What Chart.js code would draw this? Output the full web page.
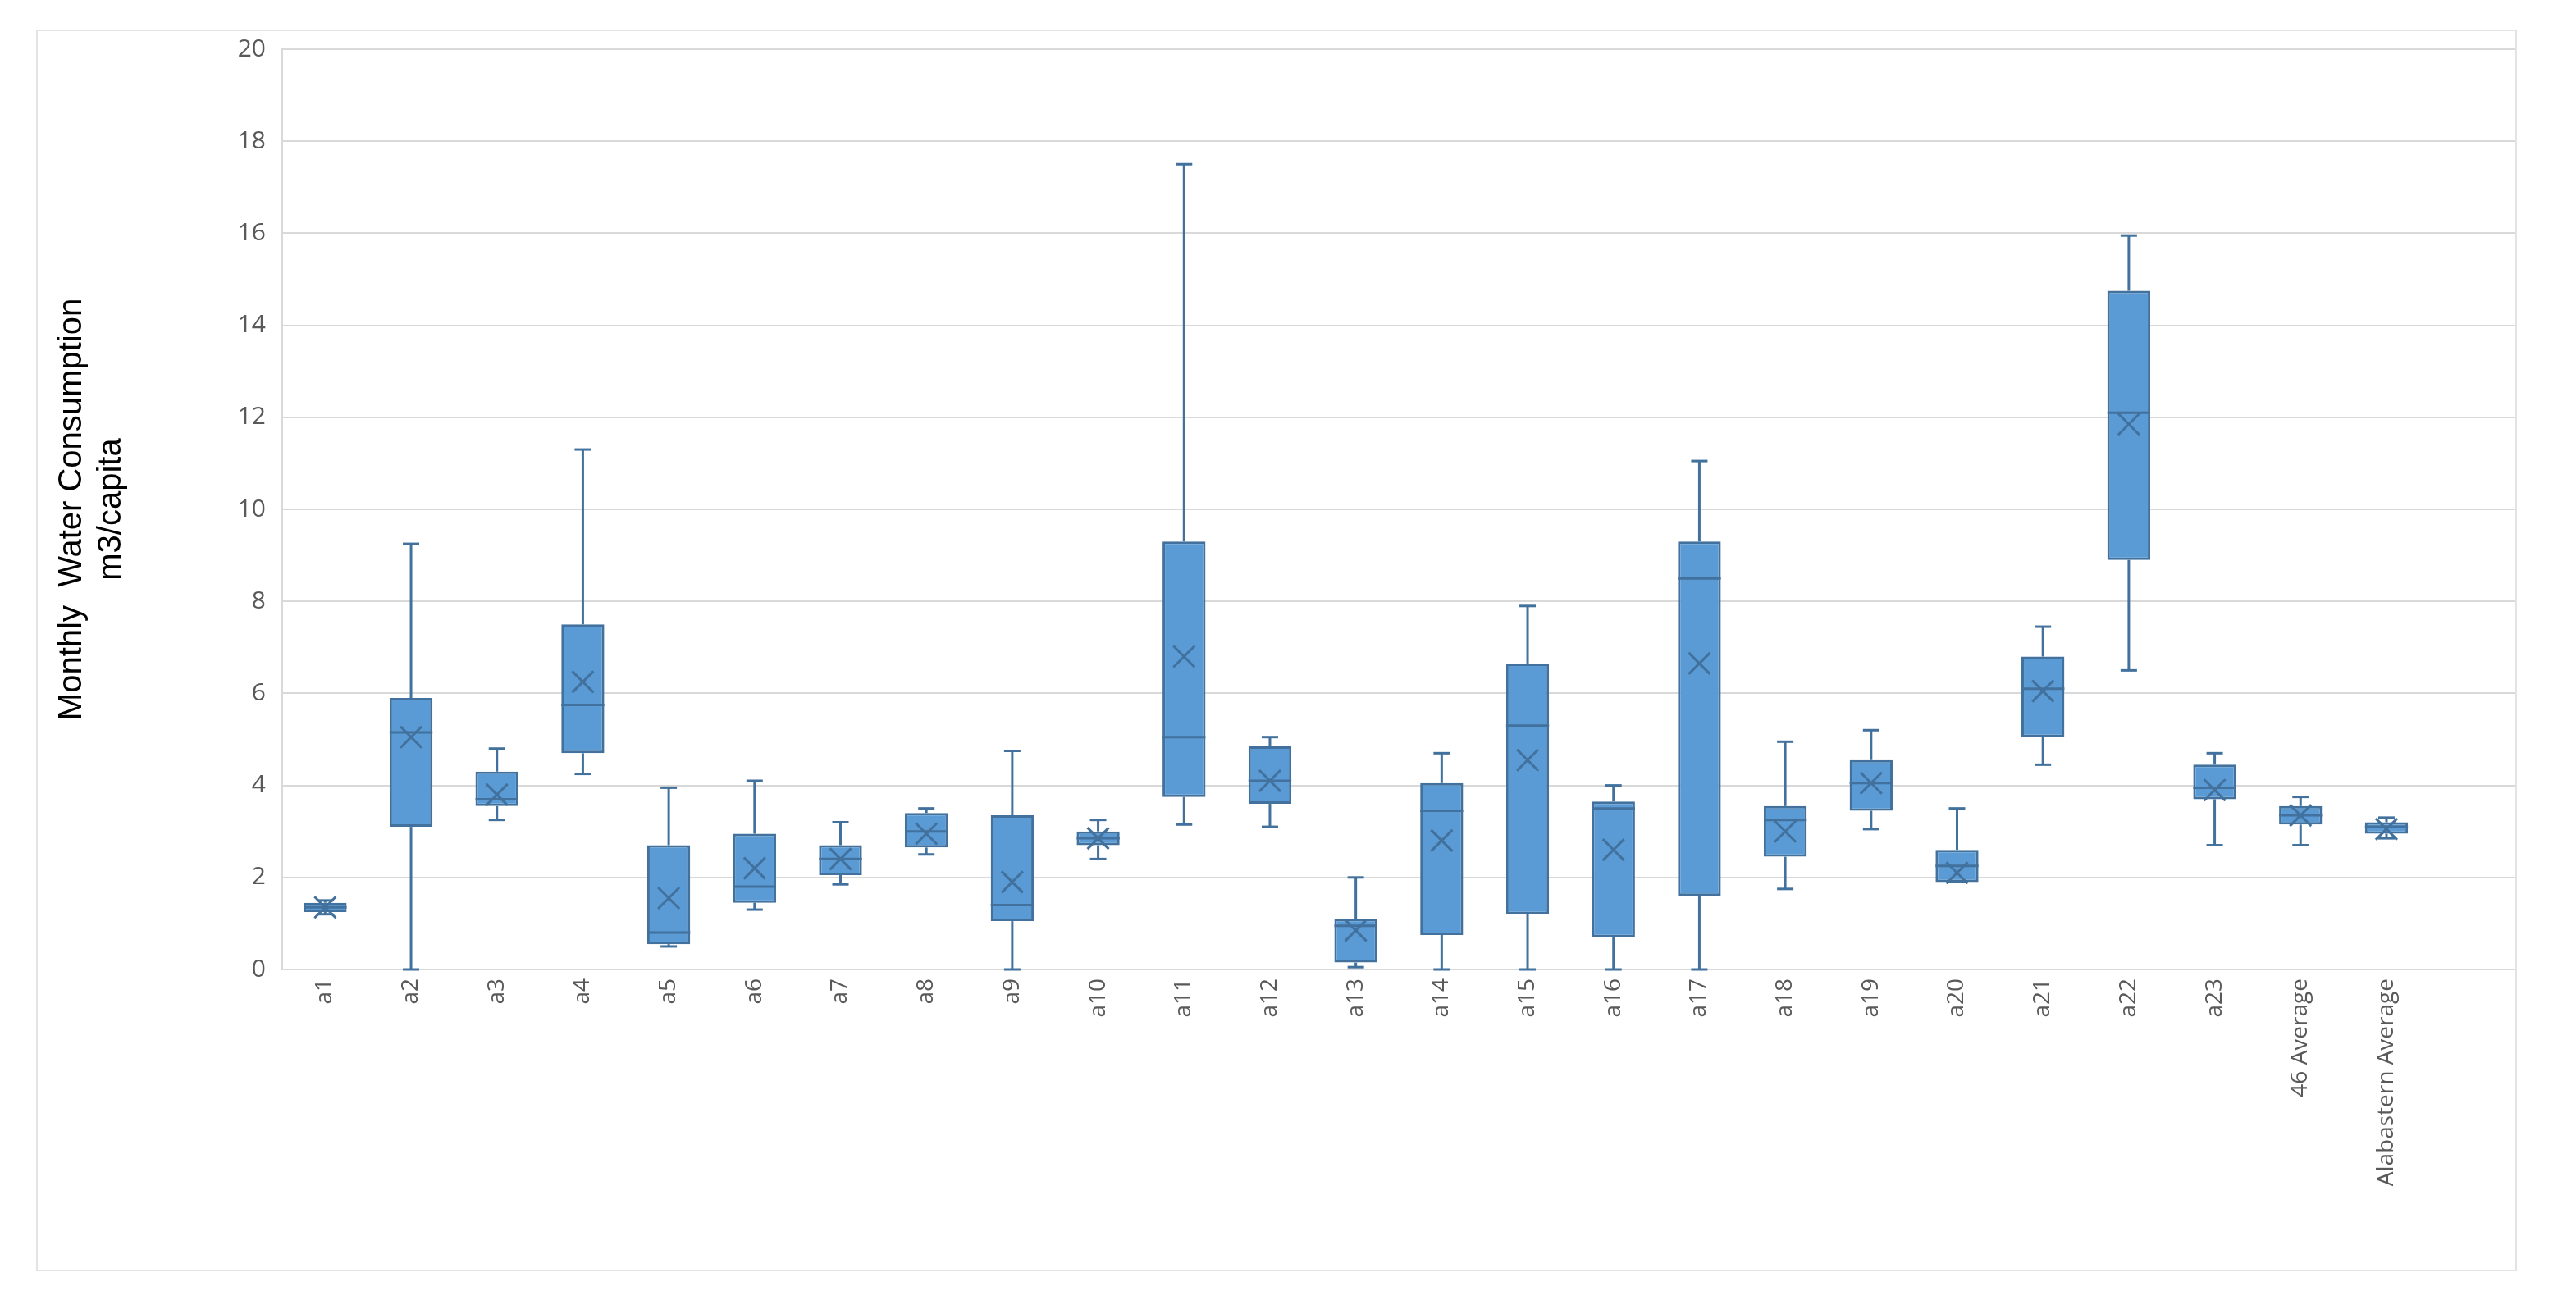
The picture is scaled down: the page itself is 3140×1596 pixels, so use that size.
<!DOCTYPE html>
<html><head><meta charset="utf-8">
<script src="https://cdn.jsdelivr.net/npm/chart.js@4/dist/chart.umd.min.js"></script>
<style>html,body{margin:0;padding:0;background:#fff}#wrap{position:relative;width:3140px;height:1596px}
#frame{position:absolute;left:44px;top:36px;width:3024px;height:1514px;border:2px solid #e3e3e3;box-sizing:border-box}</style>
</head><body><div id="wrap"><div id="frame"></div><canvas id="c" width="3140" height="1596"></canvas></div>
<script>
const categories = ["a1","a2","a3","a4","a5","a6","a7","a8","a9","a10","a11","a12","a13","a14","a15","a16","a17","a18","a19","a20","a21","a22","a23","46 Average","Alabastern Average",""];
const mins   = [1.2,0,3.25,4.25,0.5,1.3,1.85,2.5,0,2.4,3.15,3.1,0.05,0,0,0,0,1.75,3.05,1.9,4.45,6.5,2.7,2.7,2.85];
const q1s    = [1.25,3.1,3.55,4.7,0.55,1.45,2.05,2.65,1.05,2.7,3.75,3.6,0.15,0.75,1.2,0.7,1.6,2.45,3.45,1.9,5.05,8.9,3.7,3.15,2.95];
const medians= [1.35,5.15,3.7,5.75,0.8,1.8,2.4,3.0,1.4,2.85,5.05,4.1,0.95,3.45,5.3,3.5,8.5,3.25,4.05,2.25,6.1,12.1,3.95,3.35,3.1];
const q3s    = [1.45,5.9,4.3,7.5,2.7,2.95,2.7,3.4,3.35,3.0,9.3,4.85,1.1,4.05,6.65,3.65,9.3,3.55,4.55,2.6,6.8,14.75,4.45,3.55,3.2];
const maxs   = [1.5,9.25,4.8,11.3,3.95,4.1,3.2,3.5,4.75,3.25,17.5,5.05,2.0,4.7,7.9,4.0,11.05,4.95,5.2,3.5,7.45,15.95,4.7,3.75,3.3];
const means  = [1.35,5.05,3.8,6.25,1.55,2.2,2.4,2.95,1.9,2.85,6.8,4.1,0.85,2.8,4.55,2.6,6.65,3.0,4.05,2.1,6.05,11.85,3.9,3.35,3.05];
const yTicks = [0,2,4,6,8,10,12,14,16,18,20];
const FILL="#5b9bd5", LINE="#41719c";
const boxPlugin={id:'box',afterDatasetsDraw(ch){
  const c=ch.ctx,x=ch.scales.x,y=ch.scales.y,meta=ch.getDatasetMeta(0);
  c.save();c.strokeStyle=LINE;c.lineWidth=3;
  mins.forEach((mn,i)=>{
    const px=x.getPixelForValue(i),w=meta.data[i].width/2,cap=10;
    const ln=(a,b,cc,d)=>{c.beginPath();c.moveTo(a,b);c.lineTo(cc,d);c.stroke();};
    ln(px,y.getPixelForValue(mn),px,y.getPixelForValue(q1s[i]));
    ln(px,y.getPixelForValue(q3s[i]),px,y.getPixelForValue(maxs[i]));
    ln(px-cap,y.getPixelForValue(mn),px+cap,y.getPixelForValue(mn));
    ln(px-cap,y.getPixelForValue(maxs[i]),px+cap,y.getPixelForValue(maxs[i]));
    ln(px-w,y.getPixelForValue(medians[i]),px+w,y.getPixelForValue(medians[i]));
    const my=y.getPixelForValue(means[i]),s=13;
    ln(px-s,my-s,px+s,my+s);ln(px-s,my+s,px+s,my-s);
  });
  c.restore();}};
new Chart(document.getElementById('c'),{
  type:'bar',
  data:{labels:categories,datasets:[{data:q1s.map((v,i)=>[v,q3s[i]]),backgroundColor:FILL,borderColor:LINE,borderWidth:3,borderSkipped:false,barPercentage:0.5,categoryPercentage:1}]},
  options:{responsive:false,animation:false,devicePixelRatio:1,
    layout:{padding:{left:60,top:60,right:74,bottom:40}},
    plugins:{legend:{display:false},tooltip:{enabled:false}},
    scales:{
      x:{grid:{display:false},border:{color:'#d9d9d9',width:2},
        ticks:{color:'#595959',font:{family:'Open Sans',size:28},maxRotation:90,minRotation:90,autoSkip:false},
        afterFit(s){s.height=374;}},
      y:{min:0,max:20,afterBuildTicks(s){s.ticks=yTicks.map(v=>({value:v}));},
        grid:{color:'#d9d9d9',lineWidth:2,drawTicks:false},border:{color:'#d9d9d9',width:2},
        ticks:{color:'#595959',font:{family:'Open Sans',size:30},padding:20},
        title:{display:true,text:['Monthly  Water Consumption','m3/capita'],color:'#000',font:{family:'Liberation Sans',size:40},padding:{bottom:100}},
        afterFit(s){s.width=284;}}
    }},
  plugins:[boxPlugin]
});
</script></body></html>
